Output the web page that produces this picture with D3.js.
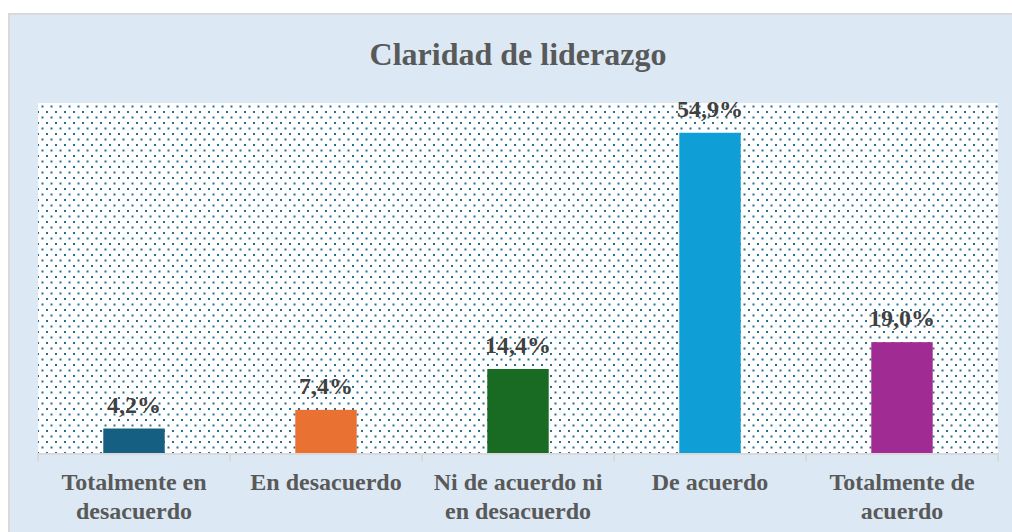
<!DOCTYPE html>
<html>
<head>
<meta charset="utf-8">
<script src="https://cdn.jsdelivr.net/npm/d3@7"></script>
<style>
  body { margin: 0; background: #fff; }
  svg text { font-family: "Liberation Serif", "Times New Roman", serif; font-weight: bold; }
</style>
</head>
<body>
<div id="chart"></div>
<script>
// Chart data
const categories = [
  ['Totalmente en', 'desacuerdo'],
  ['En desacuerdo'],
  ['Ni de acuerdo ni', 'en desacuerdo'],
  ['De acuerdo'],
  ['Totalmente de', 'acuerdo']
];
const values = [4.2, 7.4, 14.4, 54.9, 19.0];
const barColors = ['#156082', '#e97132', '#196b24', '#0f9ed5', '#a02b93'];
const title = 'Claridad de liderazgo';

const width = 1012;
const height = 532;
const plot = { left: 38, right: 998, top: 103, bottom: 453 };

const svg = d3.select('#chart')
  .append('svg')
    .attr('width', width)
    .attr('height', height);

// Dotted pattern for the plot area
const pattern = svg.append('defs')
  .append('pattern')
    .attr('id', 'dots')
    .attr('patternUnits', 'userSpaceOnUse')
    .attr('width', 9)
    .attr('height', 11);
pattern.append('rect')
    .attr('width', 9).attr('height', 11).attr('fill', '#ffffff');
[[1, 1], [5.5, 6.5]].forEach(p => {
  pattern.append('rect')
      .attr('x', p[0]).attr('y', p[1])
      .attr('width', 2).attr('height', 2)
      .attr('fill', '#2a6f92');
});

// Chart frame
svg.append('rect')
    .attr('x', 9)
    .attr('y', 14)
    .attr('width', 1010)
    .attr('height', 530)
    .attr('fill', '#dce9f5')
    .attr('stroke', '#d9d9d9')
    .attr('stroke-width', 2);

// Scales
const x = d3.scaleBand()
  .domain(d3.range(categories.length))
  .range([plot.left, plot.right])
  .paddingInner(0.68)
  .paddingOuter(0.34);

const y = d3.scaleLinear()
  .domain([0, 60])
  .range([plot.bottom, plot.top]);

// Plot area
svg.append('rect')
    .attr('x', plot.left)
    .attr('y', plot.top)
    .attr('width', plot.right - plot.left)
    .attr('height', plot.bottom - plot.top)
    .attr('fill', 'url(#dots)');

// Title
svg.append('text')
    .attr('x', (plot.left + plot.right) / 2)
    .attr('y', 65)
    .attr('text-anchor', 'middle')
    .attr('font-size', 32)
    .attr('fill', '#595959')
    .text(title);

// Bars
svg.append('g')
  .selectAll('rect')
  .data(values)
  .join('rect')
    .attr('x', (d, i) => x(i))
    .attr('y', d => y(d))
    .attr('width', x.bandwidth())
    .attr('height', d => y(0) - y(d))
    .attr('fill', (d, i) => barColors[i]);

// Value labels
svg.append('g')
  .selectAll('text')
  .data(values)
  .join('text')
    .attr('x', (d, i) => x(i) + x.bandwidth() / 2)
    .attr('y', d => y(d) - 16)
    .attr('text-anchor', 'middle')
    .attr('font-size', 24)
    .attr('fill', '#404040')
    .text(d => d.toFixed(1).replace('.', ',') + '%');

// X axis: line plus boundary ticks
const step = x.step();
const axis = svg.append('g').attr('stroke', '#d9d9d9').attr('stroke-width', 2);
axis.append('line')
    .attr('x1', plot.left).attr('x2', plot.right)
    .attr('y1', plot.bottom + 1).attr('y2', plot.bottom + 1);
axis.selectAll('.tick')
  .data(d3.range(categories.length + 1))
  .join('line')
    .attr('class', 'tick')
    .attr('x1', i => plot.left + i * step)
    .attr('x2', i => plot.left + i * step)
    .attr('y1', plot.bottom)
    .attr('y2', plot.bottom + 8);

// Category labels
const labels = svg.append('g')
  .selectAll('text')
  .data(categories)
  .join('text')
    .attr('x', (d, i) => x(i) + x.bandwidth() / 2)
    .attr('y', 490)
    .attr('text-anchor', 'middle')
    .attr('font-size', 24)
    .attr('fill', '#595959');

labels.selectAll('tspan')
  .data(d => d)
  .join('tspan')
    .attr('x', function () { return d3.select(this.parentNode).attr('x'); })
    .attr('dy', (d, i) => i === 0 ? 0 : 29)
    .text(d => d);
</script>
</body>
</html>
